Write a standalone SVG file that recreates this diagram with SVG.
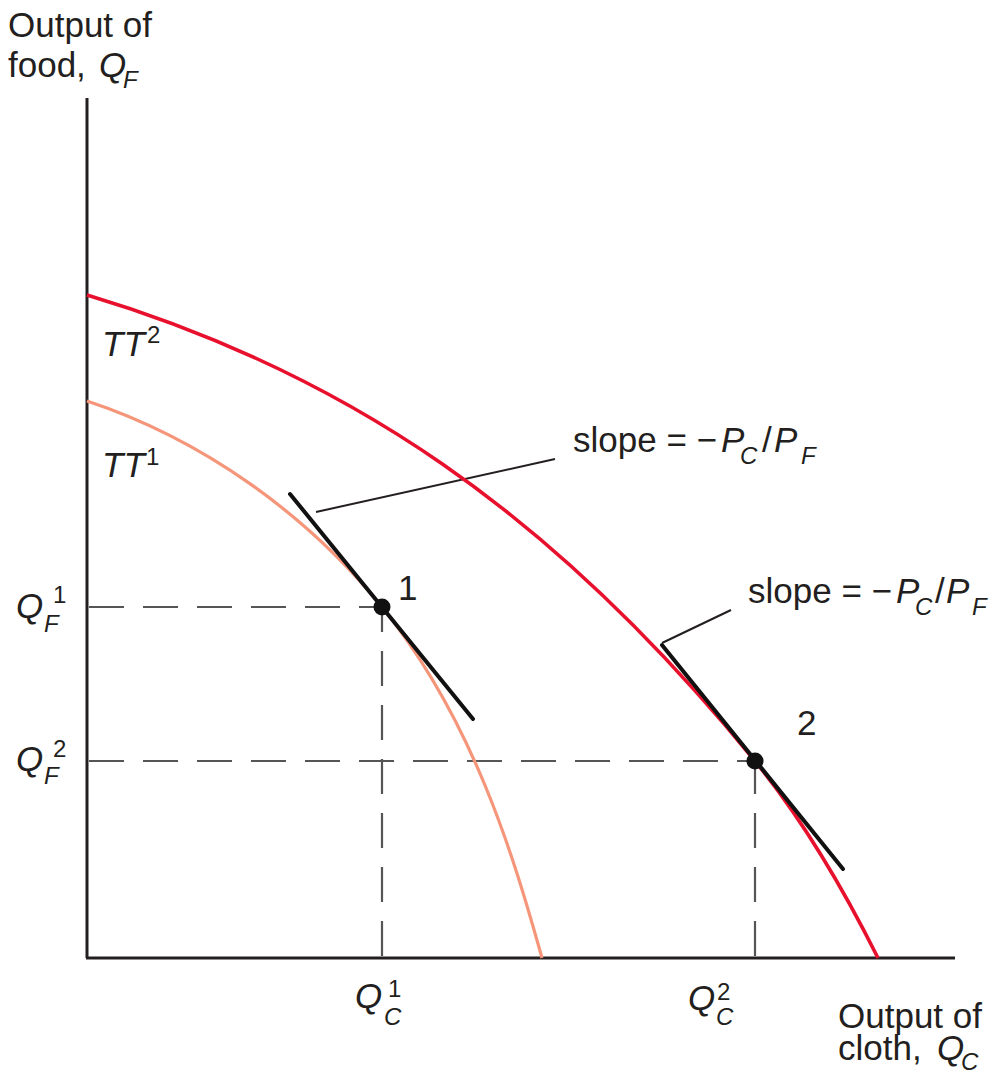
<svg xmlns="http://www.w3.org/2000/svg" width="994" height="1073" viewBox="0 0 994 1073">
<style>
text{font-family:"Liberation Sans",Arial,sans-serif;fill:#231f20;font-size:35px}
.i{font-style:italic}
.s{font-size:24px}
.axis{stroke:#231f20;stroke-width:3;fill:none}
.dash{stroke:#555;stroke-width:2.2;stroke-dasharray:35 19;fill:none}
.tan{stroke:#111;stroke-width:4;stroke-linecap:round;fill:none}
.lead{stroke:#231f20;stroke-width:2;fill:none}
</style>
<rect width="994" height="1073" fill="#fff"/>
<g id="axes">
<line class="axis" x1="87" y1="98" x2="87" y2="958"/>
<line class="axis" x1="86" y1="958" x2="955" y2="958"/>
</g>
<g id="connectors">
<line class="dash" x1="89" y1="607" x2="382" y2="607"/>
<line class="dash" x1="382" y1="956" x2="382" y2="607"/>
<line class="dash" x1="89" y1="761" x2="755" y2="761"/>
<line class="dash" x1="755" y1="956" x2="755" y2="761"/>
<line class="lead" x1="316" y1="512" x2="555" y2="459"/>
<line class="lead" x1="662" y1="643" x2="731" y2="610"/>
</g>
<g id="TT1">
<path d="M87,401 C202,439 307,514 382,607 C474,721 514,858 542,958" fill="none" stroke="#f5967a" stroke-width="3.2"/>
<text class="i" x="102" y="477">TT<tspan class="s" font-style="normal" x="146" y="465">1</tspan></text>
</g>
<g id="TT2">
<path d="M87,295 C347,373 553,513 755,761 C799,815 843,888 878,958" fill="none" stroke="#e8112d" stroke-width="3.6"/>
<text class="i" x="102" y="356">TT<tspan class="s" font-style="normal" x="147" y="343">2</tspan></text>
</g>
<g id="tangent1">
<line class="tan" x1="290" y1="494" x2="473" y2="719"/>
</g>
<g id="tangent2">
<line class="tan" x1="662" y1="645" x2="843" y2="869"/>
</g>
<g id="point1">
<circle cx="382" cy="607" r="8.5" fill="#111"/>
<text x="398" y="600">1</text>
</g>
<g id="point2">
<circle cx="755" cy="761" r="8.5" fill="#111"/>
<text x="797" y="735">2</text>
</g>
<g id="slope1">
<text x="573" y="452">slope = −<tspan class="i" x="721">P</tspan><tspan class="i s" x="740" y="464">C</tspan><tspan x="762" y="452">/</tspan><tspan class="i" x="774">P</tspan><tspan class="i s" x="801" y="464">F</tspan></text>
</g>
<g id="slope2">
<text x="748" y="603">slope = −<tspan class="i" x="896">P</tspan><tspan class="i s" x="915" y="615">C</tspan><tspan x="935" y="603">/</tspan><tspan class="i" x="946">P</tspan><tspan class="i s" x="972" y="615">F</tspan></text>
</g>
<g id="QF1">
<text class="i" x="16" y="618">Q<tspan class="s" font-style="normal" x="53" y="603">1</tspan><tspan class="s" x="44" y="632">F</tspan></text>
</g>
<g id="QF2">
<text class="i" x="16" y="771">Q<tspan class="s" font-style="normal" x="53" y="757">2</tspan><tspan class="s" x="44" y="784">F</tspan></text>
</g>
<g id="QC1">
<text class="i" x="355" y="1008">Q<tspan class="s" font-style="normal" x="388" y="997">1</tspan><tspan class="s" x="384" y="1025">C</tspan></text>
</g>
<g id="QC2">
<text class="i" x="688" y="1010">Q<tspan class="s" font-style="normal" x="717" y="1000">2</tspan><tspan class="s" x="716" y="1025">C</tspan></text>
</g>
<g id="ylabel">
<text x="8" y="37">Output of<tspan x="8" y="77">food, </tspan><tspan class="i" x="99" y="77">Q</tspan><tspan class="i s" x="123" y="88">F</tspan></text>
</g>
<g id="xlabel">
<text x="838" y="1028">Output of<tspan x="838" y="1060">cloth, </tspan><tspan class="i" x="937" y="1060">Q</tspan><tspan class="i s" x="961" y="1070">C</tspan></text>
</g>
</svg>
